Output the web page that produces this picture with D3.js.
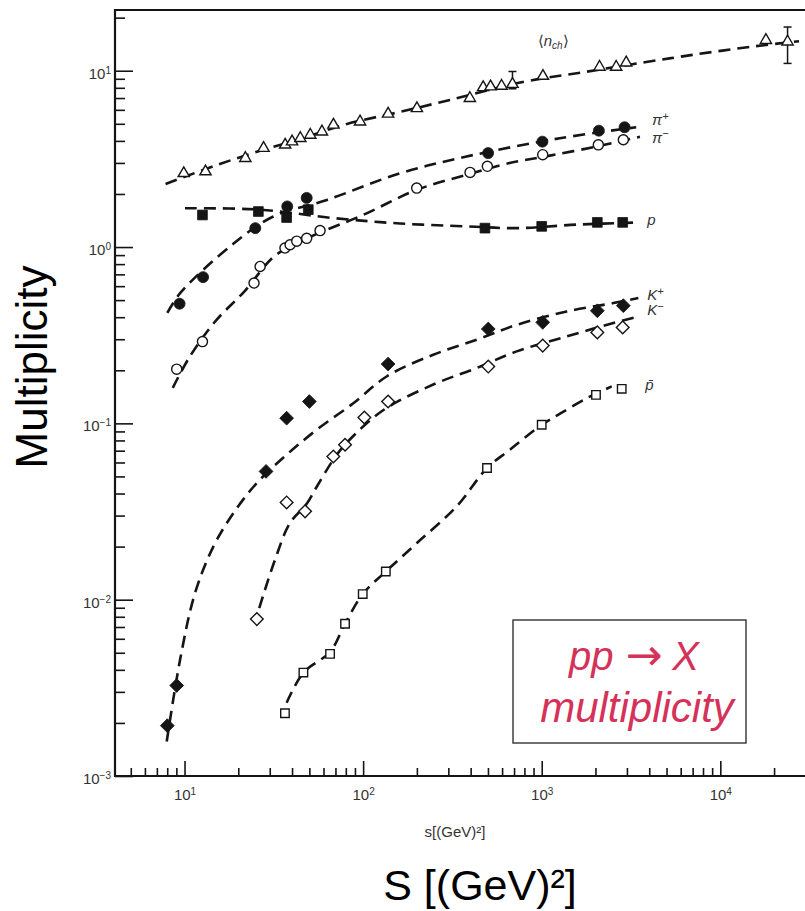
<!DOCTYPE html>
<html>
<head>
<meta charset="utf-8">
<title>pp multiplicity</title>
<style>
  body, html { margin: 0; padding: 0; background: #fff; }
  svg { display: block; font-family: "Liberation Sans", Arial, sans-serif; }
</style>
</head>
<body>
<svg id="svg" width="805" height="911"></svg>
<script src="https://d3js.org/d3.v7.min.js"></script>
<script>
// values: [s in (GeV)^2, multiplicity]
const nchPts = [[9.9,2.62],[13.1,2.68],[21.9,3.19],[27.7,3.64],[36.6,3.80],[40.0,3.96],[44.5,4.14],[50.6,4.32],
  [58.8,4.51],[68.2,4.93],[96.1,5.14],[138,5.69],[200,6.12],[396,6.98],[470,8.05],[517,8.12],[596,8.19],[686,8.4],
  [1016,9.33],[2108,10.5],[2612,10.5],[2972,11.1],[18000,14.9],[23800,14.6]]
const nchErr = [[686,7.9,9.9],[23800,11.0,17.7]]   // [s, low, high]
const nchFit = [[7.83,2.28],[15.2,2.92],[27.6,3.56],[44.5,4.10],[81.1,4.99],[161,5.84],[306,6.83],[783,8.63],
  [1778,9.87],[3846,11.2],[6980,12.3],[15100,13.7],[27600,14.7]]

const piPlusPts = [[9.38,0.477],[12.7,0.675],[24.9,1.28],[37.6,1.70],[48.3,1.90],[501,3.41],[1009,3.96],[2089,4.57],[2911,4.78]]
const piPlusFit = [[8.01,0.423],[9.50,0.551],[18.9,1.05],[31.4,1.49],[62.7,1.85],[161,2.62],[379,3.26],[1262,4.14],[3381,4.78]]

const piMinusPts = [[9.04,0.203],[12.6,0.291],[24.5,0.625],[26.5,0.776],[36.5,0.987],[39.0,1.03],[42.5,1.08],[48.3,1.12],
  [57.4,1.24],[199.5,2.16],[397,2.65],[496,2.87],[1013,3.34],[2075,3.80],[2864,4.06]]
const piMinusFit = [[8.59,0.159],[10.7,0.239],[14.8,0.377],[21.8,0.565],[32.1,0.893],[50.4,1.14],[99.9,1.52],
  [199.5,2.11],[397,2.60],[637,2.97],[1113,3.30],[2121,3.75],[3548,4.22]]

const pPts = [[12.6,1.52],[25.9,1.59],[37.3,1.47],[49.3,1.63],[481,1.28],[1000,1.31],[2048,1.38],[2841,1.38]]
const pFit = [[10.06,1.66],[26.5,1.63],[67.9,1.46],[161,1.36],[380,1.31],[724,1.28],[1570,1.34],[3548,1.38]]

const kPlusPts = [[8.01,0.00193],[9.04,0.00326],[28.6,0.0534],[37.3,0.107],[50.0,0.133],[138,0.217],[502,0.343],
  [1013,0.374],[2048,0.435],[2864,0.465]]
const kPlusFit = [[7.95,0.00157],[9.44,0.00456],[11.45,0.0109],[14.5,0.020],[18.8,0.031],[25.4,0.0459],[37.3,0.0664],
  [55.0,0.092],[88.1,0.130],[136,0.185],[247,0.245],[432,0.298],[724,0.362],[1380,0.431],[2518,0.481],[3475,0.514]]

const kMinusPts = [[25.4,0.00776],[37.3,0.0356],[47.3,0.0317],[68.1,0.0649],[79.2,0.0756],[101.6,0.108],[138,0.133],
  [502,0.21],[1013,0.276],[2048,0.328],[2841,0.35]]
const kMinusFit = [[26.2,0.00896],[32.1,0.01684],[39.0,0.0273],[47.9,0.0345],[55.0,0.0437],[68.1,0.0622],[80.9,0.0776],
  [130,0.119],[247,0.166],[432,0.206],[724,0.256],[1380,0.311],[2518,0.371],[3475,0.404]]

const pbarPts = [[36.5,0.00227],[46.3,0.00386],[65.3,0.00493],[79.2,0.0073],[99.5,0.01076],[134,0.01445],[494,0.0558],
  [1000,0.0982],[2013,0.145],[2805,0.157]]
const pbarFit = [[37.3,0.0026],[46.3,0.00386],[65.3,0.00506],[79.2,0.0073],[99.5,0.01076],[134,0.01445],[199.5,0.0209],
  [334,0.0338],[494,0.0558],[664,0.0709],[1000,0.0982],[1266,0.1134],[1786,0.139],[2466,0.162]]

const xDecades = [10, 100, 1000, 10000]
const yDecades = [0.001, 0.01, 0.1, 1, 10]

const ink = '#151515'
const svg = d3.select('#svg')

const x = d3.scaleLog().domain([4.08, 29800]).range([115, 805])
const y = d3.scaleLog().domain([0.001, 22.1]).range([776, 10])

// superscript labels 10^n
function powLabels(g) {
  g.selectAll('.tick text').each(function (d) {
    const t = d3.select(this).text('')
    const e = Math.round(Math.log10(d))
    t.append('tspan').text('10')
    t.append('tspan').attr('dy', '-0.5em').attr('font-size', 10).text(e < 0 ? '\u2212' + (-e) : e)
  })
}

function styleAxis(g) {
  g.select('.domain').remove()
  g.selectAll('.tick line').attr('stroke', ink).attr('stroke-width', 1.6)
  g.selectAll('.tick text').attr('fill', '#333').attr('font-size', 15)
  g.attr('font-family', null)
}

// x axis: minor then major ticks, pointing inward
svg.append('g')
  .attr('transform', 'translate(0,776)')
  .call(d3.axisBottom(x).tickValues(x.ticks().filter(v => !xDecades.includes(v))).tickSize(-8).tickFormat(''))
  .call(styleAxis)
svg.append('g')
  .attr('transform', 'translate(0,776)')
  .call(d3.axisBottom(x).tickValues(xDecades).tickSize(-15).tickPadding(13))
  .call(styleAxis)
  .call(powLabels)

// y axis
svg.append('g')
  .attr('transform', 'translate(115,0)')
  .call(d3.axisLeft(y).tickValues(y.ticks().filter(v => !yDecades.some(k => Math.abs(k - v) / k < 1e-6))).tickSize(-10).tickFormat(''))
  .call(styleAxis)
svg.append('g')
  .attr('transform', 'translate(115,0)')
  .call(d3.axisLeft(y).tickValues(yDecades).tickSize(-18).tickPadding(4))
  .call(styleAxis)
  .call(powLabels)
  .selectAll('.tick text').attr('dy', '0.5em')

// frame (right side is cut off in the scan)
svg.append('path')
  .attr('d', `M805,${y.range()[1]}H${x.range()[0]}V${y.range()[0]}H805`)
  .attr('fill', 'none').attr('stroke', ink).attr('stroke-width', 2.2)

// dashed fits
const line = d3.line().x(d => x(d[0])).y(d => y(d[1])).curve(d3.curveCatmullRom.alpha(0.5))
const fits = [nchFit, piPlusFit, piMinusFit, pFit, kPlusFit, kMinusFit, pbarFit]
svg.append('g').selectAll('path').data(fits).join('path')
  .attr('d', line)
  .attr('fill', 'none').attr('stroke', ink).attr('stroke-width', 2.6)
  .attr('stroke-dasharray', '12,7')

// error bars
const eb = svg.append('g').attr('stroke', ink).attr('stroke-width', 1.5)
eb.selectAll('line.v').data(nchErr).join('line').attr('class', 'v')
  .attr('x1', d => x(d[0])).attr('x2', d => x(d[0])).attr('y1', d => y(d[1])).attr('y2', d => y(d[2]))
eb.selectAll('line.lo').data(nchErr).join('line').attr('class', 'lo')
  .attr('x1', d => x(d[0]) - 4).attr('x2', d => x(d[0]) + 4).attr('y1', d => y(d[1])).attr('y2', d => y(d[1]))
eb.selectAll('line.hi').data(nchErr).join('line').attr('class', 'hi')
  .attr('x1', d => x(d[0]) - 4).attr('x2', d => x(d[0]) + 4).attr('y1', d => y(d[2])).attr('y2', d => y(d[2]))

// markers
function markers(data, type, size, filled, rotate) {
  svg.append('g').selectAll('path').data(data).join('path')
    .attr('d', d3.symbol().type(type).size(size))
    .attr('transform', d => `translate(${x(d[0])},${y(d[1])}) rotate(${rotate || 0})`)
    .attr('fill', filled ? ink : '#fff')
    .attr('stroke', ink).attr('stroke-width', filled ? 0.8 : 1.4)
}
markers(nchPts, d3.symbolTriangle, 55, false)
markers(piMinusPts, d3.symbolCircle, 80, false)
markers(piPlusPts, d3.symbolCircle, 95, true)
markers(pPts, d3.symbolSquare, 95, true)
markers(kPlusPts, d3.symbolSquare, 95, true, 45)
markers(kMinusPts, d3.symbolSquare, 80, false, 45)
markers(pbarPts, d3.symbolSquare, 72, false)

// series labels
const lab = svg.append('g').attr('font-size', 15).attr('font-style', 'italic').attr('fill', '#333')
function seriesLabel(s, m, main, sup) {
  const t = lab.append('text').attr('x', x(s)).attr('y', y(m))
  t.append('tspan').text(main)
  if (sup) t.append('tspan').attr('dy', '-0.5em').attr('font-size', 11).text(sup)
  return t
}
seriesLabel(4150, 4.9, '\u03c0', '+')
seriesLabel(4150, 3.9, '\u03c0', '\u2212')
seriesLabel(3900, 1.33, 'p')
seriesLabel(3900, 0.50, 'K', '+')
seriesLabel(3900, 0.41, 'K', '\u2212')
seriesLabel(3800, 0.155, 'p\u0304')
const nl = lab.append('text').attr('x', x(950)).attr('y', y(13.9))
nl.append('tspan').attr('font-style', 'normal').text('\u27e8')
nl.append('tspan').text('n')
nl.append('tspan').attr('dy', 3).attr('font-size', 10).text('ch')
nl.append('tspan').attr('dy', -3).attr('font-style', 'normal').text('\u27e9')

// small scan axis title
svg.append('text').attr('x', 455).attr('y', 837).attr('text-anchor', 'middle')
  .attr('font-size', 15).attr('fill', '#333').text('s[(GeV)\u00b2]')

// big titles
svg.append('text').attr('transform', 'translate(47,367) rotate(-90)').attr('text-anchor', 'middle')
  .attr('font-size', 44).attr('fill', '#000').text('Multiplicity')
svg.append('text').attr('x', 480).attr('y', 900).attr('text-anchor', 'middle')
  .attr('font-size', 43).attr('fill', '#000').text('S [(GeV)\u00b2]')

// annotation box
svg.append('rect').attr('x', 513).attr('y', 620).attr('width', 233).attr('height', 123)
  .attr('fill', '#fff').attr('stroke', '#222').attr('stroke-width', 1.3)
const red = '#d5325a'
const t1 = svg.append('text').attr('x', 634).attr('y', 670).attr('text-anchor', 'middle')
  .attr('font-size', 40).attr('font-style', 'italic').attr('fill', red)
t1.append('tspan').text('pp')
t1.append('tspan').attr('dx', 12).attr('font-family', '"DejaVu Sans"').attr('font-style', 'normal').attr('font-size', 44).text('\u2192')
t1.append('tspan').attr('dx', 10).text('X')
svg.append('text').attr('x', 637).attr('y', 722).attr('text-anchor', 'middle')
  .attr('font-size', 42).attr('font-style', 'italic').attr('fill', red).text('multiplicity')
</script>
</body>
</html>
